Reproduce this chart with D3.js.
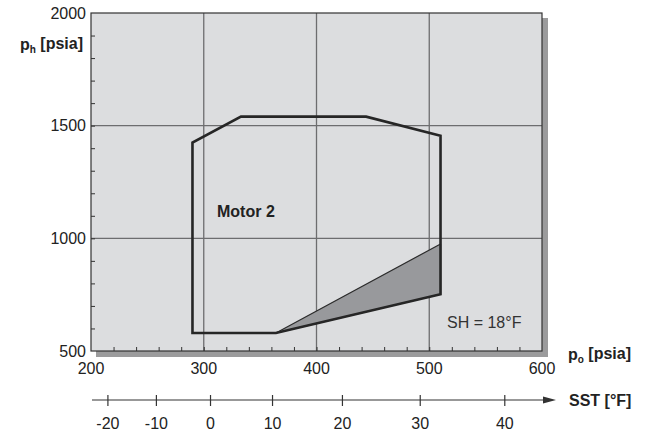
<!DOCTYPE html>
<html>
<head>
<meta charset="utf-8">
<script src="https://cdn.jsdelivr.net/npm/d3@7"></script>
<style>
  body { margin: 0; background: #fff; }
  svg { font-family: 'Liberation Sans', Arial, sans-serif; }
</style>
</head>
<body>
<div id="chart"></div>
<script>
// envelope of Motor 2, p_o [psia] vs p_h [psia]
const envelopeP0 = [290, 290, 333, 444, 510, 510, 364];
const envelopePh = [580, 1425, 1540, 1540, 1455, 752, 580];
// shaded region
const shadeP0 = [364, 510, 510];
const shadePh = [580, 975, 752];

const xTicks = [200, 300, 400, 500, 600];
const yTicks = [500, 1000, 1500, 2000];
const xGrid = [300, 400, 500];
const yGrid = [1000, 1500];

// saturated suction temperature ticks and their pressure [psia]
const sstLabels = [-20, -10, 0, 10, 20, 30, 40];
const sstPressure = [215, 258, 306, 361, 423, 492, 567];

const width = 650, height = 434;
const margin = { top: 13, right: 108, bottom: 83, left: 91 };
const plotW = width - margin.left - margin.right;
const plotH = height - margin.top - margin.bottom;
const fs = 16;

const svg = d3.select('#chart')
  .append('svg')
  .attr('width', width)
  .attr('height', height);

const x = d3.scaleLinear().domain([200, 600]).range([margin.left, margin.left + plotW]);
const y = d3.scaleLinear().domain([500, 2000]).range([margin.top + plotH, margin.top]);

// drop shadow
svg.append('rect')
  .attr('x', margin.left + 5)
  .attr('y', margin.top + 5)
  .attr('width', plotW + 1)
  .attr('height', plotH + 1)
  .attr('fill', '#9b9b9c');

// plot background
svg.append('rect')
  .attr('x', margin.left)
  .attr('y', margin.top)
  .attr('width', plotW)
  .attr('height', plotH)
  .attr('fill', '#dcdddf');

// grid
svg.append('g')
  .selectAll('line')
  .data(xGrid)
  .join('line')
  .attr('x1', d => x(d)).attr('x2', d => x(d))
  .attr('y1', margin.top).attr('y2', margin.top + plotH)
  .attr('stroke', '#6d6d6f')
  .attr('stroke-width', 1.3);

svg.append('g')
  .selectAll('line')
  .data(yGrid)
  .join('line')
  .attr('x1', margin.left).attr('x2', margin.left + plotW)
  .attr('y1', d => y(d)).attr('y2', d => y(d))
  .attr('stroke', '#6d6d6f')
  .attr('stroke-width', 1.3);

// shaded area
const line = d3.line().x(d => x(d[0])).y(d => y(d[1]));
svg.append('path')
  .attr('d', line(d3.zip(shadeP0, shadePh)) + 'Z')
  .attr('fill', '#98999c')
  .attr('stroke', '#2b2b2b')
  .attr('stroke-width', 1.2)
  .attr('stroke-linejoin', 'round');

// envelope
svg.append('path')
  .attr('d', line(d3.zip(envelopeP0, envelopePh)) + 'Z')
  .attr('fill', 'none')
  .attr('stroke', '#262626')
  .attr('stroke-width', 2.6)
  .attr('stroke-linejoin', 'miter');

// frame
svg.append('rect')
  .attr('x', margin.left)
  .attr('y', margin.top)
  .attr('width', plotW)
  .attr('height', plotH)
  .attr('fill', 'none')
  .attr('stroke', '#333')
  .attr('stroke-width', 1.2);

// axes (ticks inside)
const yAxis = svg.append('g')
  .attr('transform', `translate(${margin.left},0)`)
  .call(d3.axisRight(y).tickValues(d3.range(600, 2000, 100)).tickSize(4).tickFormat(''));
yAxis.select('.domain').remove();
yAxis.selectAll('line').attr('stroke', '#333');

const xAxis = svg.append('g')
  .attr('transform', `translate(0,${margin.top + plotH})`)
  .call(d3.axisTop(x).tickValues(d3.range(220, 600, 20)).tickSize(4).tickFormat(''));
xAxis.select('.domain').remove();
xAxis.selectAll('line').attr('stroke', '#333');

// tick labels
svg.append('g')
  .selectAll('text')
  .data(yTicks)
  .join('text')
  .attr('x', margin.left - 5)
  .attr('y', d => y(d))
  .attr('dy', '0.35em')
  .attr('text-anchor', 'end')
  .attr('font-size', fs)
  .attr('fill', '#222')
  .text(d => d);

svg.append('g')
  .selectAll('text')
  .data(xTicks)
  .join('text')
  .attr('x', d => x(d))
  .attr('y', margin.top + plotH + 17)
  .attr('dy', '0.35em')
  .attr('text-anchor', 'middle')
  .attr('font-size', fs)
  .attr('fill', '#222')
  .text(d => d);

// axis titles
const yTitle = svg.append('text')
  .attr('x', 83)
  .attr('y', 44)
  .attr('dy', '0.35em')
  .attr('text-anchor', 'end')
  .attr('font-size', fs)
  .attr('font-weight', 'bold')
  .attr('fill', '#222');
yTitle.append('tspan').text('p');
yTitle.append('tspan').attr('font-size', 10).attr('dy', '0.3em').text('h');
yTitle.append('tspan').attr('dy', '-0.2em').text(' [psia]');

const xTitle = svg.append('text')
  .attr('x', 568)
  .attr('y', 354)
  .attr('dy', '0.35em')
  .attr('font-size', fs)
  .attr('font-weight', 'bold')
  .attr('fill', '#222');
xTitle.append('tspan').text('p');
xTitle.append('tspan').attr('font-size', 10).attr('dy', '0.3em').text('o');
xTitle.append('tspan').attr('dy', '-0.2em').text(' [psia]');

// SST axis
const sstY = 400;
svg.append('line')
  .attr('x1', margin.left + 1).attr('x2', 545)
  .attr('y1', sstY).attr('y2', sstY)
  .attr('stroke', '#333')
  .attr('stroke-width', 1.2);
svg.append('path')
  .attr('d', `M543,${sstY - 3.5}L556,${sstY}L543,${sstY + 3.5}Z`)
  .attr('fill', '#333');

svg.append('g')
  .selectAll('line')
  .data(sstPressure)
  .join('line')
  .attr('x1', d => x(d)).attr('x2', d => x(d))
  .attr('y1', sstY - 5).attr('y2', sstY + 6)
  .attr('stroke', '#333')
  .attr('stroke-width', 1.2);

svg.append('g')
  .selectAll('text')
  .data(sstLabels)
  .join('text')
  .attr('x', (d, i) => x(sstPressure[i]))
  .attr('y', 423)
  .attr('dy', '0.35em')
  .attr('text-anchor', 'middle')
  .attr('font-size', fs)
  .attr('fill', '#222')
  .text(d => d);

svg.append('text')
  .attr('x', 569)
  .attr('y', sstY)
  .attr('dy', '0.35em')
  .attr('font-size', fs)
  .attr('font-weight', 'bold')
  .attr('fill', '#222')
  .text('SST [°F]');

// annotations
svg.append('text')
  .attr('x', 217)
  .attr('y', 211)
  .attr('dy', '0.35em')
  .attr('font-size', fs)
  .attr('font-weight', 'bold')
  .attr('fill', '#222')
  .text('Motor 2');

svg.append('text')
  .attr('x', 447)
  .attr('y', 322)
  .attr('dy', '0.35em')
  .attr('font-size', fs)
  .attr('fill', '#333')
  .text('SH = 18°F');
</script>
</body>
</html>
